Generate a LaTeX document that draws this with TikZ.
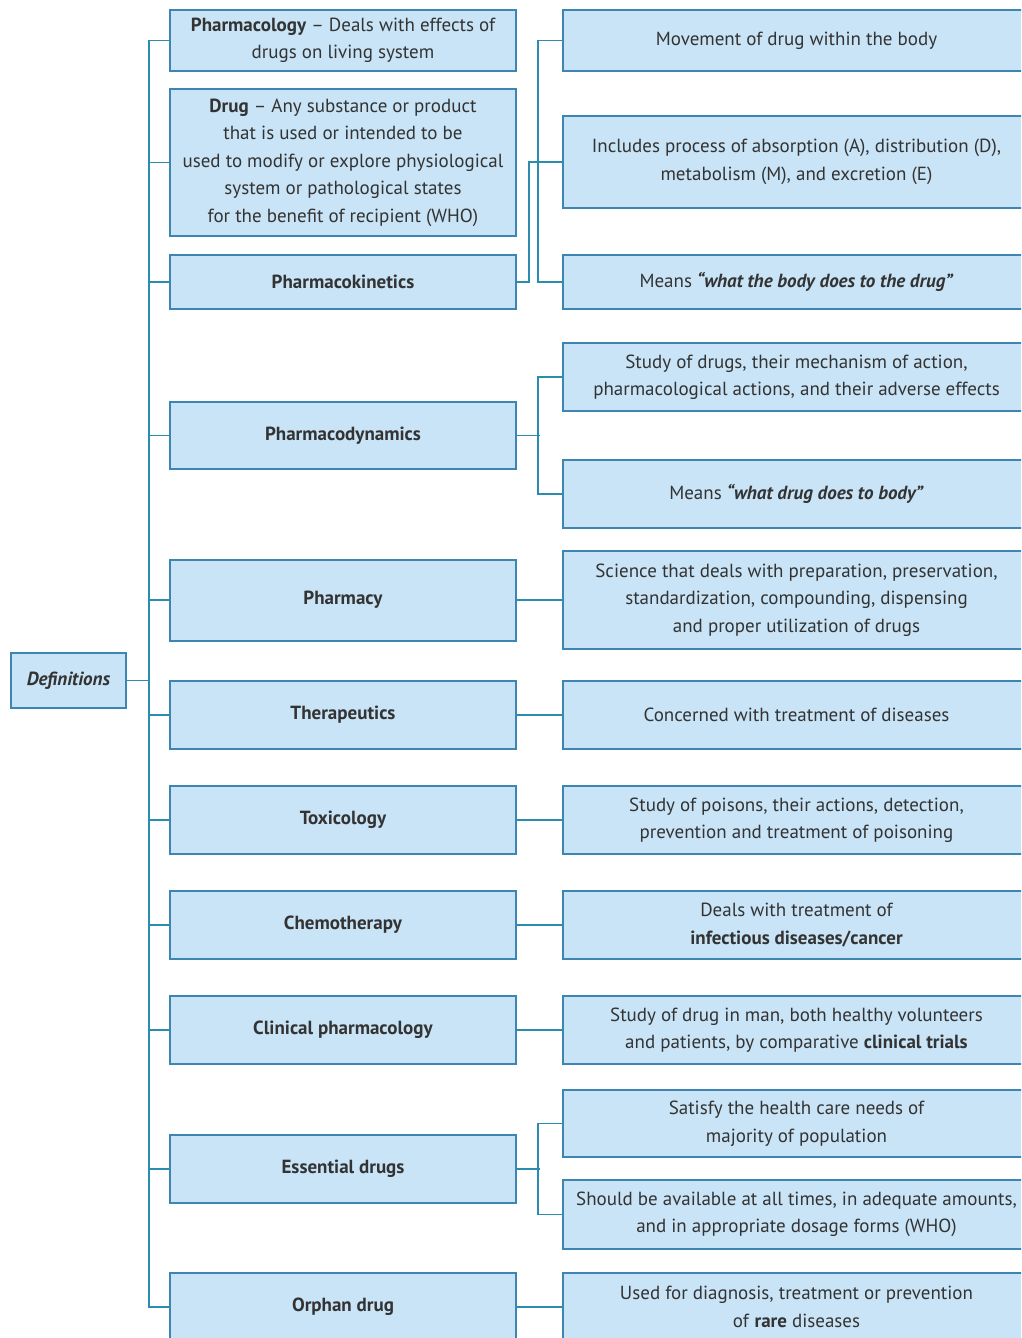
\documentclass[tikz,border=0pt]{standalone}
\usepackage{fontspec}
\setmainfont{PT Sans}
\usetikzlibrary{positioning}
\definecolor{boxfill}{HTML}{C8E4F6}
\definecolor{boxline}{HTML}{3D86B2}
\definecolor{linkcol}{HTML}{2A8CAE}
\definecolor{txt}{HTML}{333333}
\tikzset{
  box/.style={draw=boxline,line width=2pt,fill=boxfill,text=txt,align=center,
    inner sep=0pt,font=\fontsize{19}{27.5}\selectfont},
  defbox/.style={box,minimum width=115,minimum height=55},
  lbox/.style={box,minimum width=346},
  rbox/.style={box,minimum width=467},
  link/.style={draw=linkcol,line width=1.8pt},
}
\begin{document}
\begin{tikzpicture}[x=1pt,y=-1pt]
\useasboundingbox (0,0) rectangle (1021,1338);
\clip (0,0) rectangle (1021,1338);
%% root
\node[defbox] (defs) at (68.5,680.5) {\textbf{\textit{Definitions}}};
%% left column
\node[lbox,minimum height=61] (pharmacology) at (343,40.5) {\textbf{Pharmacology} -- Deals with effects of\\drugs on living system};
\node[lbox,minimum height=147] (drug) at (343,162.5) {\textbf{Drug} -- Any substance or product\\that is used or intended to be\\used to modify or explore physiological\\system or pathological states\\for the benefit of recipient (WHO)};
\node[lbox,minimum height=54] (pkin) at (343,282) {\textbf{Pharmacokinetics}};
\node[lbox,minimum height=67] (pdyn) at (343,435.5) {\textbf{Pharmacodynamics}};
\node[lbox,minimum height=81] (pharmacy) at (343,600) {\textbf{Pharmacy}};
\node[lbox,minimum height=68] (thera) at (343,715) {\textbf{Therapeutics}};
\node[lbox,minimum height=68] (toxi) at (343,820) {\textbf{Toxicology}};
\node[lbox,minimum height=68] (chemo) at (343,925) {\textbf{Chemotherapy}};
\node[lbox,minimum height=68] (clin) at (343,1030) {\textbf{Clinical pharmacology}};
\node[lbox,minimum height=68] (essen) at (343,1169) {\textbf{Essential drugs}};
\node[lbox,minimum height=68] (orphan) at (343,1307) {\textbf{Orphan drug}};
%% right column
\node[rbox,minimum height=61] (pkinA) at (796.5,40.5) {Movement of drug within the body};
\node[rbox,minimum height=92] (pkinB) at (796.5,162) {Includes process of absorption (A), distribution (D),\\metabolism (M), and excretion (E)};
\node[rbox,minimum height=54] (pkinC) at (796.5,282) {Means \textbf{\textit{“what the body does to the drug”}}};
\node[rbox,minimum height=68] (pdynA) at (796.5,377) {Study of drugs, their mechanism of action,\\pharmacological actions, and their adverse effects};
\node[rbox,minimum height=68] (pdynB) at (796.5,494) {Means \textbf{\textit{“what drug does to body”}}};
\node[rbox,minimum height=98] (pharmacyA) at (796.5,600) {Science that deals with preparation, preservation,\\standardization, compounding, dispensing\\and proper utilization of drugs};
\node[rbox,minimum height=68] (theraA) at (796.5,715) {Concerned with treatment of diseases};
\node[rbox,minimum height=68] (toxiA) at (796.5,820) {Study of poisons, their actions, detection,\\prevention and treatment of poisoning};
\node[rbox,minimum height=68] (chemoA) at (796.5,925) {Deals with treatment of\\\textbf{infectious diseases/cancer}};
\node[rbox,minimum height=68] (clinA) at (796.5,1030) {Study of drug in man, both healthy volunteers\\and patients, by comparative \textbf{clinical trials}};
\node[rbox,minimum height=67] (essenA) at (796.5,1123.5) {Satisfy the health care needs of\\majority of population};
\node[rbox,minimum height=69] (essenB) at (796.5,1214.5) {Should be available at all times, in adequate amounts,\\and in appropriate dosage forms (WHO)};
\node[rbox,minimum height=68] (orphanA) at (796.5,1307) {Used for diagnosis, treatment or prevention\\of \textbf{rare} diseases};
%% trunk
\coordinate (trunk) at (149,0);
\draw[link] (pharmacology.west) -- (pharmacology.west -| trunk) |- (orphan.west);
\draw[link] (defs.east) -- (defs.east -| trunk);
\foreach \n in {drug,pkin,pdyn,pharmacy,thera,toxi,chemo,clin,essen}
  \draw[link] (\n.west) -- (\n.west -| trunk);
%% branches
\draw[link] (pkin.east) -- ++(12,0) |- (pkinB.west);
\draw[link] (pkinA.west) -- ++(-24,0) |- (pkinC.west);
\draw[link] (pdyn.east) -- ++(23,0);
\draw[link] (pdynA.west) -- ++(-24,0) |- (pdynB.west);
\draw[link] (essen.east) -- ++(23,0);
\draw[link] (essenA.west) -- ++(-24,0) |- (essenB.west);
\foreach \n in {pharmacy,thera,toxi,chemo,clin,orphan}
  \draw[link] (\n.east) -- (\n.east -| \n A.west);
\end{tikzpicture}
\end{document}
